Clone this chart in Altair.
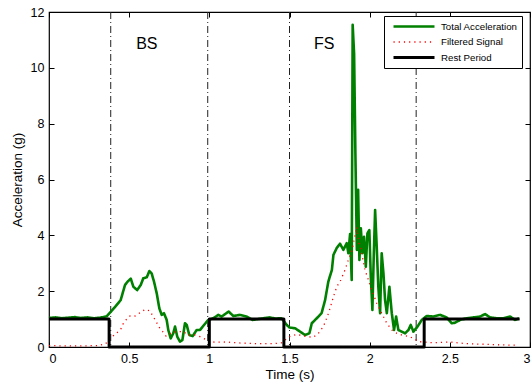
import altair as alt
import pandas as pd

series_names = ["Total Acceleration", "Filtered Signal", "Rest Period"]
series_colors = ["#008000", "#ff0000", "#000000"]

total_t = [0.0, 0.04, 0.08, 0.12, 0.16, 0.2, 0.24, 0.28, 0.32, 0.36,
           0.387, 0.41, 0.447, 0.474, 0.49, 0.51, 0.526, 0.55, 0.572, 0.588,
           0.61, 0.626, 0.64, 0.655, 0.672, 0.688, 0.703, 0.717, 0.734, 0.744,
           0.759, 0.775, 0.786, 0.8, 0.817, 0.832, 0.848, 0.859, 0.875, 0.896,
           0.921, 0.942, 0.967, 0.994, 1.025, 1.056, 1.077, 1.12, 1.15, 1.19,
           1.233, 1.27, 1.337, 1.378, 1.41, 1.45, 1.483, 1.5, 1.535, 1.566,
           1.597, 1.624, 1.639, 1.67, 1.70, 1.722, 1.742, 1.753, 1.764, 1.774,
           1.795, 1.815, 1.836, 1.857, 1.867, 1.878, 1.888, 1.894, 1.903, 1.911,
           1.92, 1.928, 1.936, 1.945, 1.955, 1.965, 1.976, 1.986, 1.998, 2.007,
           2.017, 2.026, 2.034, 2.044, 2.054, 2.065, 2.075, 2.086, 2.096, 2.107,
           2.123, 2.138, 2.152, 2.165, 2.179, 2.2, 2.221, 2.242, 2.256, 2.273,
           2.298, 2.325, 2.356, 2.397, 2.44, 2.48, 2.512, 2.533, 2.564, 2.606,
           2.647, 2.689, 2.72, 2.751, 2.793, 2.834, 2.876, 2.907, 2.932]
total_g = [1.04, 1.06, 1.03, 1.05, 1.07, 1.04, 1.06, 1.03, 1.05, 1.1,
           1.27, 1.42, 1.68, 2.22, 2.34, 2.45, 2.16, 2.04, 2.22, 2.46,
           2.5, 2.72, 2.64, 2.34, 1.92, 1.39, 1.15, 1.21, 0.97, 0.61,
           0.31, 0.49, 0.73, 0.37, 0.19, 0.25, 0.85, 0.79, 0.43, 0.39,
           0.61, 0.61, 0.79, 0.97, 1.03, 1.15, 1.09, 1.27, 1.11, 1.15,
           1.09, 0.97, 1.03, 1.06, 1.02, 1.03, 0.79, 0.7, 0.67, 0.55,
           0.43, 0.49, 0.85, 1.03, 1.21, 1.68, 2.34, 2.55, 2.75, 3.3,
           3.55, 3.7, 3.48, 3.72, 3.36, 4.05, 2.4, 11.54, 10.5, 6.94,
           3.48, 5.63, 3.12, 4.25, 3.36, 3.95, 2.88, 4.07, 4.19, 2.52,
           1.33, 3.36, 4.91, 3.6, 2.16, 1.21, 3.36, 2.64, 1.68, 1.21,
           2.16, 1.21, 0.61, 1.09, 0.61, 0.55, 0.49, 0.61, 0.79, 0.55,
           0.73, 0.97, 1.11, 1.09, 1.15, 1.06, 0.85, 0.87, 0.97, 1.03,
           1.06, 1.09, 1.18, 1.06, 1.03, 1.03, 1.09, 0.97, 1.03]

filt_t = [0.0, 0.1, 0.2, 0.3, 0.35, 0.39, 0.42, 0.447, 0.464, 0.48,
          0.505, 0.537, 0.568, 0.6, 0.63, 0.65, 0.668, 0.688, 0.709, 0.73,
          0.765, 0.797, 0.838, 0.869, 0.911, 0.942, 0.973, 0.994, 1.05, 1.1,
          1.2, 1.3, 1.4, 1.45, 1.5, 1.545, 1.607, 1.649, 1.68, 1.711,
          1.736, 1.753, 1.774, 1.795, 1.82, 1.846, 1.867, 1.888, 1.909, 1.92,
          1.93, 1.95, 1.971, 1.992, 2.013, 2.044, 2.075, 2.107, 2.138, 2.169,
          2.2, 2.25, 2.31, 2.4, 2.5, 2.6, 2.7, 2.8, 2.93]
filt_g = [0.05, 0.04, 0.04, 0.05, 0.1, 0.35, 0.49, 0.63, 0.85, 0.97,
          1.11, 1.11, 1.23, 1.35, 1.29, 1.09, 0.91, 0.7, 0.55, 0.39,
          0.51, 0.55, 0.55, 0.43, 0.43, 0.37, 0.28, 0.19, 0.17, 0.18,
          0.14, 0.12, 0.12, 0.15, 0.37, 0.45, 0.37, 0.35, 0.49, 0.73,
          1.09, 1.39, 1.8, 2.16, 2.4, 2.76, 3.12, 3.42, 4.0, 4.3,
          3.84, 3.36, 2.76, 2.4, 2.04, 1.57, 1.21, 0.85, 0.61, 0.49,
          0.43, 0.37, 0.19, 0.15, 0.18, 0.12, 0.1, 0.08, 0.06]

rest_t = [0.0, 0.375, 0.375, 1.0, 1.0, 1.465, 1.465, 2.34, 2.34, 2.935]
rest_g = [1, 1, 0, 0, 1, 1, 0, 0, 1, 1]

phase_t = [0.385, 0.99, 1.5, 2.29]
label_text = ["BS", "FS"]
label_t = [0.61, 1.717]
label_g = [10.85, 10.85]

x_ticks = [0, 0.5, 1, 1.5, 2, 2.5, 3]
y_ticks = [0, 2, 4, 6, 8, 10, 12]

rows = []
for name, ts, gs in zip(series_names, [total_t, filt_t, rest_t], [total_g, filt_g, rest_g]):
    for i, (t, g) in enumerate(zip(ts, gs)):
        rows.append({"series": name, "t": t, "g": g, "i": i})
df = pd.DataFrame(rows)
phase_df = pd.DataFrame({"t": phase_t})
label_df = pd.DataFrame({"text": label_text, "t": label_t, "g": label_g})

FONT = "Liberation Sans"
xscale = alt.Scale(domain=[0, 3], nice=False, zero=False)
yscale = alt.Scale(domain=[0, 12], nice=False, zero=False)

leg = alt.Legend(title=None, orient="none", legendX=335, legendY=4,
                 symbolType="stroke", symbolSize=1681, clipHeight=13,
                 rowPadding=2.5, padding=4, symbolOffset=4, labelOffset=5,
                 labelFont=FONT, labelFontSize=9.7, labelColor="black",
                 strokeColor="black", fillColor="white", labelLimit=300)

color_enc = alt.Color("series:N", scale=alt.Scale(domain=series_names, range=series_colors), legend=leg)
dash_enc = alt.StrokeDash("series:N", scale=alt.Scale(domain=series_names, range=[[1, 0], [1.2, 4], [1, 0]]), legend=leg)
width_enc = alt.StrokeWidth("series:N", scale=alt.Scale(type="ordinal", domain=series_names, range=[2.6, 1.3, 3.0]), legend=leg)

x_main = alt.Axis(orient="bottom", values=x_ticks, offset=-5, tickSize=5, domain=False,
                  grid=False, format="~g", labelPadding=5, title="Time (s)", titlePadding=3,
                  labelFont=FONT, labelFontSize=12.5, titleFont=FONT, titleFontSize=13.5,
                  titleFontWeight="normal", labelColor="black", titleColor="black", tickColor="black")
y_main = alt.Axis(orient="left", values=y_ticks, offset=-5, tickSize=5, domain=False,
                  grid=False, format="~g", labelPadding=5, title="Acceleration (g)", titlePadding=6,
                  labelFont=FONT, labelFontSize=12.5, titleFont=FONT, titleFontSize=13.5,
                  titleFontWeight="normal", labelColor="black", titleColor="black", tickColor="black")
x_top = alt.Axis(orient="top", values=x_ticks, offset=-5, tickSize=5, domain=False, grid=False,
                 labels=False, title=None, tickColor="black")
y_right = alt.Axis(orient="right", values=y_ticks, offset=-5, tickSize=5, domain=False, grid=False,
                   labels=False, title=None, tickColor="black")

rules = alt.Chart(phase_df).mark_rule(color="#222222", strokeDash=[7, 3, 1, 3], strokeWidth=1).encode(
    x=alt.X("t:Q", scale=xscale, axis=x_top)
)

def series_layer(name, xaxis, yaxis):
    return alt.Chart(df).transform_filter(alt.datum.series == name).mark_line(
        strokeJoin="round", strokeCap="butt"
    ).encode(
        x=alt.X("t:Q", scale=xscale, axis=xaxis),
        y=alt.Y("g:Q", scale=yscale, axis=yaxis),
        color=color_enc, strokeDash=dash_enc, strokeWidth=width_enc,
        order=alt.Order("i:Q"),
    )

green = series_layer("Total Acceleration", x_main, y_main)
red = series_layer("Filtered Signal", None, y_right)
black = series_layer("Rest Period", None, None)

labels = alt.Chart(label_df).mark_text(font=FONT, fontSize=16, color="black", baseline="middle", align="center").encode(
    x=alt.X("t:Q", scale=xscale, axis=None),
    y=alt.Y("g:Q", scale=yscale, axis=None),
    text="text:N",
)

chart = alt.layer(rules, green, red, black, labels).resolve_axis(
    x="independent", y="independent"
).properties(
    width=481, height=335,
    autosize=alt.AutoSizeParams(type="none"),
    padding={"left": 49, "top": 12, "right": 2, "bottom": 36},
    background="white",
).configure_view(stroke="black", strokeWidth=1.2)

chart.save("out.html", embed_options={"renderer": "svg", "actions": False})
